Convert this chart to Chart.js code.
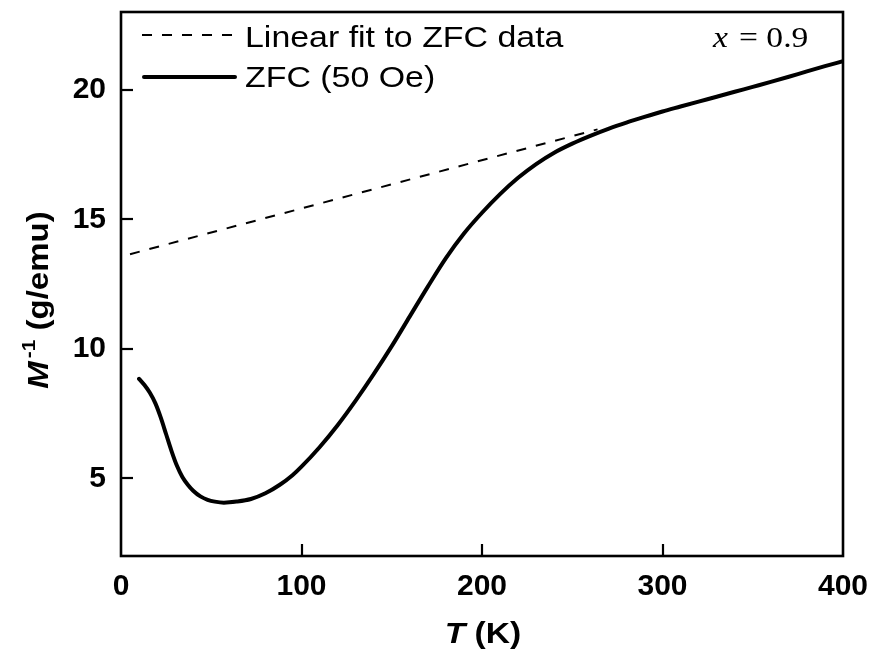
<!DOCTYPE html>
<html>
<head>
<meta charset="utf-8">
<script src="https://cdn.jsdelivr.net/npm/chart.js@4/dist/chart.umd.min.js"></script>
<style>
html,body{margin:0;padding:0;background:#fff;}
canvas{display:block;}
</style>
</head>
<body>
<canvas id="c" width="870" height="650"></canvas>
<script>
// ---- data ----
const tempZFC = [10, 13, 16, 19, 22, 25, 28, 31, 34, 37, 40, 44, 48, 52, 57, 64, 72, 80, 88, 95, 100, 110, 120, 130, 140, 150, 160, 170, 180, 190, 200, 210, 220, 230, 240, 250, 260, 270, 280, 290, 300, 310, 320, 330, 340, 350, 360, 370, 380, 390, 400];
const invMZFC = [8.84, 8.6, 8.3, 7.9, 7.35, 6.7, 6.05, 5.48, 5.05, 4.75, 4.52, 4.3, 4.17, 4.1, 4.06, 4.1, 4.2, 4.42, 4.75, 5.12, 5.45, 6.2, 7.05, 8.0, 9.02, 10.1, 11.25, 12.4, 13.5, 14.45, 15.25, 15.97, 16.6, 17.13, 17.57, 17.92, 18.22, 18.49, 18.73, 18.95, 19.16, 19.35, 19.54, 19.73, 19.92, 20.11, 20.3, 20.5, 20.71, 20.91, 21.1];
const tempFit = [5, 264];
const invMFit = [13.65, 18.47];
const xTicks = [0, 100, 200, 300, 400];
const yTicks = [5, 10, 15, 20];
const seriesLabels = ['Linear fit to ZFC data', 'ZFC (50 Oe)'];
const annotationText = ['x', '= 0.9'];

const SANS = '"Liberation Sans", Arial, sans-serif';
const SERIF = '"Liberation Serif", "Times New Roman", serif';

function pts(xs, ys){ return xs.map((x,i)=>({x:x, y:ys[i]})); }

function stretchText(ctx, txt, x, y, sx){
  ctx.save();
  ctx.translate(x, y);
  ctx.scale(sx, 1);
  ctx.fillText(txt, 0, 0);
  ctx.restore();
}

function zeroPad(s){ s.paddingTop = 0; s.paddingBottom = 0; s.paddingLeft = 0; s.paddingRight = 0; }

const decor = {
  id: 'decor',
  afterDatasetsDraw(chart){
    const ctx = chart.ctx;
    const a = chart.chartArea;
    const xs = chart.scales.x, ys = chart.scales.y;
    ctx.save();
    ctx.strokeStyle = '#000';
    ctx.fillStyle = '#000';
    // frame
    ctx.lineWidth = 2.6;
    ctx.setLineDash([]);
    ctx.strokeRect(a.left, a.top, a.right - a.left, a.bottom - a.top);
    // inward ticks
    ctx.lineWidth = 2.2;
    xs.ticks.forEach(t => {
      const px = Math.round(xs.getPixelForValue(t.value));
      if (px <= a.left + 1 || px >= a.right - 1) return;
      ctx.beginPath(); ctx.moveTo(px, a.bottom); ctx.lineTo(px, a.bottom - 12); ctx.stroke();
    });
    ys.ticks.forEach(t => {
      const py = Math.round(ys.getPixelForValue(t.value));
      ctx.beginPath(); ctx.moveTo(a.left, py); ctx.lineTo(a.left + 12, py); ctx.stroke();
    });
    // legend
    const ds = chart.data.datasets;
    ctx.lineWidth = 2;
    ctx.setLineDash([10, 10]);
    ctx.beginPath(); ctx.moveTo(142, 35); ctx.lineTo(237, 35); ctx.stroke();
    ctx.setLineDash([]);
    ctx.lineWidth = 4;
    ctx.lineCap = 'round';
    ctx.beginPath(); ctx.moveTo(144, 77); ctx.lineTo(235, 77); ctx.stroke();
    ctx.lineCap = 'butt';
    ctx.font = '30px ' + SANS;
    ctx.textBaseline = 'alphabetic';
    ctx.textAlign = 'left';
    stretchText(ctx, ds[0].label, 245, 47, 1.13);
    stretchText(ctx, ds[1].label, 245, 87, 1.13);
    // annotation x = 0.9
    ctx.font = 'italic 30px ' + SERIF;
    stretchText(ctx, annotationText[0], 713, 47, 1.12);
    ctx.font = '30px ' + SERIF;
    stretchText(ctx, annotationText[1], 739, 47, 1.12);
    // x axis title
    ctx.font = 'italic bold 30px ' + SANS;
    const wT = ctx.measureText('T').width * 1.12;
    ctx.font = 'bold 30px ' + SANS;
    const wK = ctx.measureText(' (K)').width * 1.12;
    let x0 = 483 - (wT + wK) / 2;
    ctx.font = 'italic bold 30px ' + SANS;
    stretchText(ctx, 'T', x0, 643, 1.12);
    ctx.font = 'bold 30px ' + SANS;
    stretchText(ctx, ' (K)', x0 + wT, 643, 1.12);
    // y axis title (rotated)
    ctx.save();
    ctx.translate(48, 300);
    ctx.rotate(-Math.PI / 2);
    ctx.font = 'italic bold 30px ' + SANS;
    const wM = ctx.measureText('M').width * 1.1;
    ctx.font = 'bold 19px ' + SANS;
    const wS = ctx.measureText('-1').width * 1.1;
    ctx.font = 'bold 30px ' + SANS;
    const wU = ctx.measureText(' (g/emu)').width * 1.1;
    const tot = wM + 3 + wS + wU;
    let p = -tot / 2;
    ctx.font = 'italic bold 30px ' + SANS;
    stretchText(ctx, 'M', p, 0, 1.1); p += wM + 3;
    ctx.font = 'bold 19px ' + SANS;
    stretchText(ctx, '-1', p, -13, 1.1); p += wS;
    ctx.font = 'bold 30px ' + SANS;
    stretchText(ctx, ' (g/emu)', p, 0, 1.1);
    ctx.restore();
    ctx.restore();
  }
};

new Chart(document.getElementById('c'), {
  type: 'scatter',
  data: {
    datasets: [
      {
        label: seriesLabels[0],
        data: pts(tempFit, invMFit),
        showLine: true,
        borderColor: '#000',
        borderWidth: 2,
        borderDash: [10, 10],
        pointRadius: 0,
        fill: false
      },
      {
        label: seriesLabels[1],
        data: pts(tempZFC, invMZFC),
        showLine: true,
        borderColor: '#000',
        borderWidth: 4,
        borderCapStyle: 'round',
        borderJoinStyle: 'round',
        cubicInterpolationMode: 'monotone',
        pointRadius: 0,
        fill: false
      }
    ]
  },
  options: {
    responsive: false,
    animation: false,
    devicePixelRatio: 1,
    layout: { padding: { left: 0, right: 27, top: 12, bottom: 0 } },
    plugins: { legend: { display: false }, tooltip: { enabled: false } },
    scales: {
      x: {
        type: 'linear', min: 0, max: 400,
        afterBuildTicks: s => { s.ticks = xTicks.map(v => ({ value: v })); },
        afterFit: s => { s.height = 94; zeroPad(s); },
        grid: { display: false, drawTicks: false },
        border: { display: false },
        ticks: { color: '#000', padding: 13, maxRotation: 0, font: { family: SANS, size: 30, weight: 'bold' } }
      },
      y: {
        type: 'linear', min: 2, max: 23,
        afterBuildTicks: s => { s.ticks = yTicks.map(v => ({ value: v })); },
        afterFit: s => { s.width = 121; zeroPad(s); },
        grid: { display: false, drawTicks: false },
        border: { display: false },
        ticks: { color: '#000', padding: 15, font: { family: SANS, size: 30, weight: 'bold' } }
      }
    }
  },
  plugins: [decor]
});
</script>
</body>
</html>
